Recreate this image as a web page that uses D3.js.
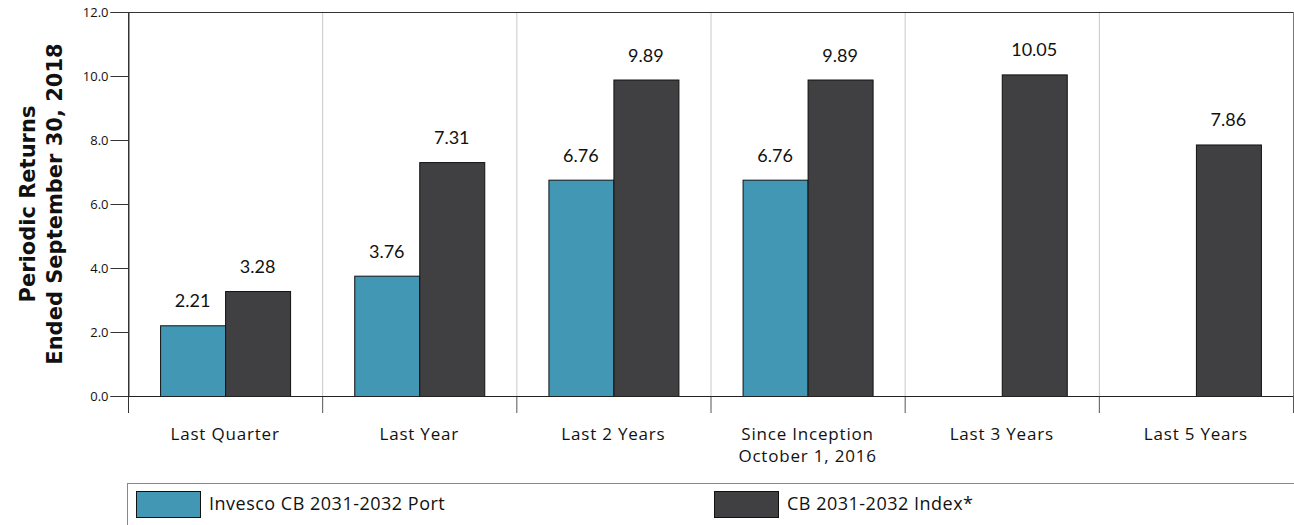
<!DOCTYPE html>
<html>
<head>
<meta charset="utf-8">
<script src="https://cdn.jsdelivr.net/npm/d3@7"></script>
<style>
  html, body { margin: 0; padding: 0; background: #fff; }
  svg { display: block; font-family: "Open Sans", Lato, sans-serif; }
</style>
</head>
<body>
<svg id="chart" width="1294" height="525"></svg>
<script>
// Periodic returns, two series per period
const categories = [
  "Last Quarter",
  "Last Year",
  "Last 2 Years",
  "Since Inception|October 1, 2016",
  "Last 3 Years",
  "Last 5 Years"
];
const seriesNames = ["Invesco CB 2031-2032 Port", "CB 2031-2032 Index*"];
const portValues  = [2.21, 3.76, 6.76, 6.76, null, null];
const indexValues = [3.28, 7.31, 9.89, 9.89, 10.05, 7.86];
const yTicks = [0, 2, 4, 6, 8, 10, 12];
const colors = ["#4297b5", "#404042"];

const svg = d3.select("#chart");
const plotLeft = 128, plotRight = 1293, plotTop = 12, plotBottom = 396;

const x = d3.scaleBand().domain(categories).range([plotLeft, plotRight]).padding(0);
const y = d3.scaleLinear().domain([0, 12]).range([plotBottom, plotTop]);
const bw = x.bandwidth();
const barW = 65;
const xs = d3.scaleBand().domain(seriesNames).range([bw / 2 - barW, bw / 2 + barW]);

// vertical separators between periods
const bounds = categories.slice(1).map(c => x(c));
svg.append("g").selectAll("line").data(bounds).join("line")
  .attr("x1", d => d + 0.5).attr("x2", d => d + 0.5)
  .attr("y1", plotTop).attr("y2", plotBottom)
  .attr("stroke", "#c8c8c8").attr("stroke-width", 1);
// drop ticks below the baseline
svg.append("g").selectAll("line").data([plotLeft, ...bounds, plotRight]).join("line")
  .attr("x1", d => d + 0.5).attr("x2", d => d + 0.5)
  .attr("y1", plotBottom).attr("y2", 413)
  .attr("stroke", "#555").attr("stroke-width", 1);

// frame: top and right
svg.append("line").attr("x1", plotLeft).attr("x2", plotRight).attr("y1", plotTop + 0.5).attr("y2", plotTop + 0.5)
  .attr("stroke", "#333");
svg.append("line").attr("x1", plotRight + 0.5).attr("x2", plotRight + 0.5).attr("y1", plotTop).attr("y2", plotBottom)
  .attr("stroke", "#777");

// bars
const rows = categories.map((c, i) => ({ c, vals: [portValues[i], indexValues[i]] }));
const groups = svg.append("g").selectAll("g").data(rows).join("g")
  .attr("transform", d => `translate(${x(d.c)},0)`);

groups.selectAll("rect")
  .data(d => d.vals.map((v, j) => ({ v, s: seriesNames[j], j })).filter(e => e.v != null))
  .join("rect")
  .attr("x", e => xs(e.s) + 0.5)
  .attr("y", e => y(e.v) + 0.5)
  .attr("width", xs.bandwidth())
  .attr("height", e => plotBottom - y(e.v))
  .attr("fill", e => colors[e.j])
  .attr("stroke", "#111").attr("stroke-width", 1);

groups.selectAll("text")
  .data(d => d.vals.map((v, j) => ({ v, s: seriesNames[j] })).filter(e => e.v != null))
  .join("text")
  .attr("x", e => xs(e.s) + xs.bandwidth() / 2)
  .attr("y", e => y(e.v) - 18)
  .attr("text-anchor", "middle")
  .attr("font-family", "Lato, sans-serif")
  .attr("font-size", 18)
  .attr("fill", "#111")
  .text(e => e.v.toFixed(2));

// y axis
const yAxis = svg.append("g").attr("transform", `translate(${plotLeft + 0.5},0)`)
  .call(d3.axisLeft(y).tickValues(yTicks).tickFormat(d3.format(".1f")).tickSize(18).tickPadding(2));
yAxis.select(".domain").attr("stroke", "#333");
yAxis.selectAll(".tick line").attr("stroke", "#333");
yAxis.selectAll(".tick text").attr("font-size", 13).attr("fill", "#111")
  .attr("font-family", "'Open Sans', sans-serif");
// extend the left axis below the baseline
svg.append("line").attr("x1", plotLeft + 0.5).attr("x2", plotLeft + 0.5).attr("y1", plotTop).attr("y2", 413)
  .attr("stroke", "#333");

// baseline
svg.append("line").attr("x1", plotLeft).attr("x2", plotRight).attr("y1", plotBottom + 0.5).attr("y2", plotBottom + 0.5)
  .attr("stroke", "#222");

// category labels
const xl = svg.append("g").selectAll("text").data(categories).join("text")
  .attr("x", d => x(d) + bw / 2)
  .attr("y", 440)
  .attr("text-anchor", "middle")
  .attr("font-size", 17)
  .attr("letter-spacing", 0.8)
  .attr("fill", "#111");
xl.selectAll("tspan").data(d => d.split("|")).join("tspan")
  .attr("x", function () { return this.parentNode.getAttribute("x"); })
  .attr("dy", (d, i) => i === 0 ? 0 : 22)
  .text(d => d);

// y title
const yt = svg.append("text")
  .attr("transform", `translate(0,${(plotTop + plotBottom) / 2}) rotate(-90)`)
  .attr("text-anchor", "middle")
  .attr("font-family", "'DejaVu Sans', sans-serif")
  .attr("font-size", 21)
  .attr("font-weight", "bold")
  .attr("fill", "#111");
yt.append("tspan").attr("x", 0).attr("y", 35).text("Periodic Returns");
yt.append("tspan").attr("x", 0).attr("y", 62).text("Ended September 30, 2018");

// legend
const lg = svg.append("g");
lg.append("line").attr("x1", 127).attr("x2", 1294).attr("y1", 483.5).attr("y2", 483.5).attr("stroke", "#888");
lg.append("line").attr("x1", 127.5).attr("x2", 127.5).attr("y1", 483).attr("y2", 525).attr("stroke", "#888");
const legendX = [136, 714];
const items = lg.selectAll("g").data(seriesNames).join("g")
  .attr("transform", (d, i) => `translate(${legendX[i]},491)`);
items.append("rect").attr("x", 0.5).attr("y", 0.5).attr("width", 64).attr("height", 26)
  .attr("fill", (d, i) => colors[i]).attr("stroke", "#111");
items.append("text").attr("x", 73).attr("y", 19).attr("font-size", 18).attr("letter-spacing", 0.5)
  .attr("fill", "#111")
  .text(d => d);
</script>
</body>
</html>
